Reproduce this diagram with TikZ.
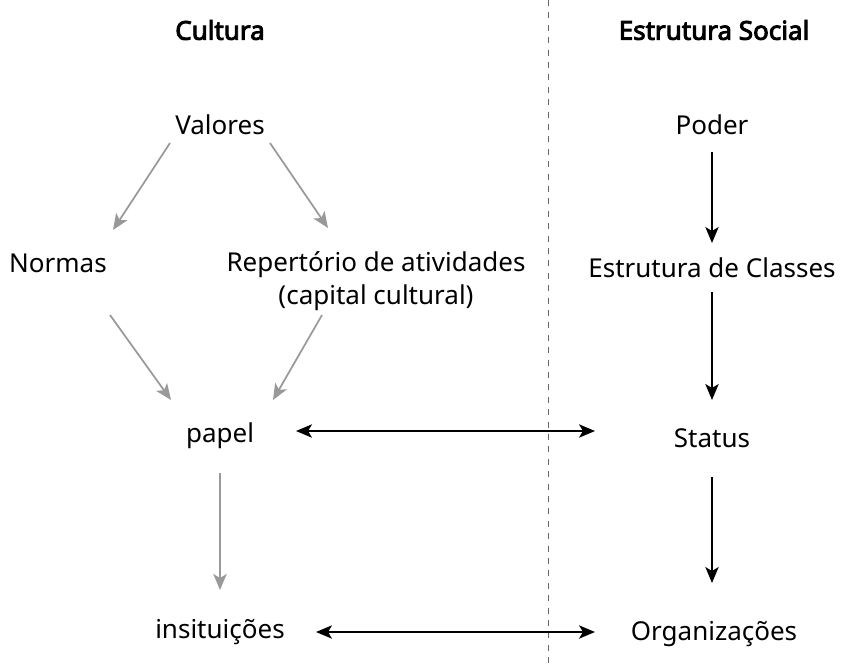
\documentclass[tikz,border=0pt]{standalone}
\usepackage{fontspec}
\setmainfont{Noto Sans}
\newfontfamily\hdrfont{Noto Sans}[FakeBold=3.5]
\usetikzlibrary{arrows.meta}
\begin{document}
\begin{tikzpicture}[x=0.75pt,y=-0.75pt,
  lbl/.style={font=\fontsize{19.5}{24.5}\selectfont, inner sep=0pt, align=center},
  hdr/.style={font=\hdrfont\fontsize{19.5}{24}\selectfont, inner sep=0pt},
  garrow/.style={draw=black!40, line width=1.3pt, -{Stealth[length=12pt,width=10pt,inset=3pt]}},
  barrow/.style={draw=black, line width=1.3pt, -{Stealth[length=12pt,width=10pt,inset=3pt]}},
  darrow/.style={draw=black, line width=1.3pt, {Stealth[length=12pt,width=10pt,inset=3pt]}-{Stealth[length=12pt,width=10pt,inset=3pt]}}]
\useasboundingbox (0,0) rectangle (842,668);
\draw[black!60, line width=0.75pt, dash pattern=on 4.5pt off 4.8pt] (548,0) -- (548,668);
\node[hdr] (cult) at (220,30) {Cultura};
\node[hdr] (es) at (714,30) {Estrutura Social};
\node[lbl] (val) at (220,125) {Valores};
\node[lbl] (norm) at (58,263) {Normas};
\node[lbl] (rep) at (376,281) {Repertório de atividades\\(capital cultural)};
\node[lbl] (pap) at (220,436) {papel};
\node[lbl] (ins) at (220,632) {insituições};
\node[lbl] (pod) at (712,125) {Poder};
\node[lbl] (edc) at (712,268) {Estrutura de Classes};
\node[lbl] (sta) at (712,438) {Status};
\node[lbl] (org) at (714,634) {Organizações};
% endpoints
\coordinate (a1) at (170,143); \coordinate (a2) at (113,230);
\coordinate (b1) at (270,143); \coordinate (b2) at (328,228);
\coordinate (c1) at (110,315); \coordinate (c2) at (171,400);
\coordinate (d1) at (322,315); \coordinate (d2) at (273,400);
\coordinate (e1) at (220,473); \coordinate (e2) at (220,590);
\coordinate (f1) at (712,152); \coordinate (f2) at (712,243);
\coordinate (g1) at (712,292); \coordinate (g2) at (712,400);
\coordinate (h1) at (712,477); \coordinate (h2) at (712,583);
\coordinate (i1) at (296,431); \coordinate (i2) at (595,431);
\coordinate (j1) at (316,632); \coordinate (j2) at (595,632);
\draw[garrow] (a1) -- (a2);
\draw[garrow] (b1) -- (b2);
\draw[garrow] (c1) -- (c2);
\draw[garrow] (d1) -- (d2);
\draw[garrow] (e1) -- (e2);
\draw[barrow] (f1) -- (f2);
\draw[barrow] (g1) -- (g2);
\draw[barrow] (h1) -- (h2);
\draw[darrow] (i1) -- (i2);
\draw[darrow] (j1) -- (j2);
\end{tikzpicture}
\end{document}
